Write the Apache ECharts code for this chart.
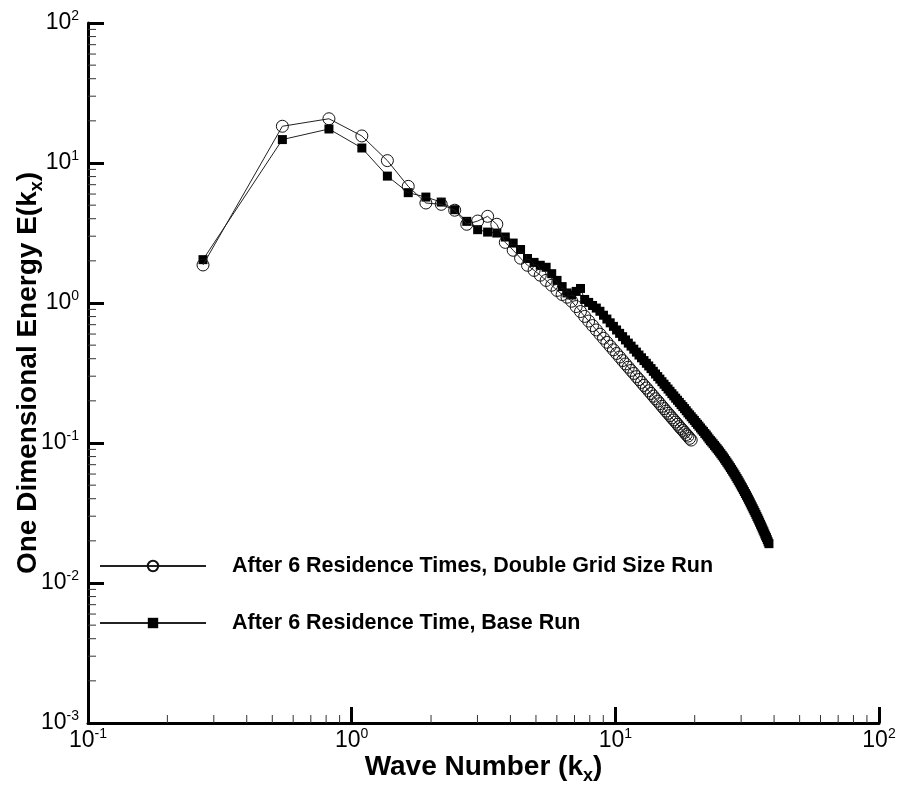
<!DOCTYPE html>
<html>
<head>
<meta charset="utf-8">
<script src="https://cdn.jsdelivr.net/npm/echarts@6/dist/echarts.min.js"></script>
<style>
  html, body { margin: 0; padding: 0; background: #fff; }
  #chart { width: 899px; height: 791px; }
</style>
</head>
<body>
<div id="chart"></div>
<script>
// wave numbers k_x (shared by both runs, the double grid run stops at 19.4)
const waveNumber = [
  0.273, 0.546, 0.820, 1.093, 1.366, 1.639, 1.912, 2.186, 2.459, 2.732,
  3.005, 3.278, 3.552, 3.825, 4.098, 4.371, 4.644, 4.918, 5.191, 5.464,
  5.737, 6.010, 6.284, 6.557, 6.830, 7.103, 7.376, 7.650, 7.923, 8.196,
  8.469, 8.742, 9.016, 9.289, 9.562, 9.835, 10.108, 10.382, 10.655, 10.928,
  11.201, 11.474, 11.748, 12.021, 12.294, 12.567, 12.840, 13.114, 13.387, 13.660,
  13.933, 14.206, 14.480, 14.753, 15.026, 15.299, 15.572, 15.846, 16.119, 16.392,
  16.665, 16.938, 17.212, 17.485, 17.758, 18.031, 18.304, 18.578, 18.851, 19.124,
  19.397, 19.670, 19.944, 20.217, 20.490, 20.763, 21.036, 21.310, 21.583, 21.856,
  22.129, 22.402, 22.676, 22.949, 23.222, 23.495, 23.768, 24.042, 24.315, 24.588,
  24.861, 25.134, 25.408, 25.681, 25.954, 26.227, 26.500, 26.774, 27.047, 27.320,
  27.593, 27.866, 28.140, 28.413, 28.686, 28.959, 29.232, 29.506, 29.779, 30.052,
  30.325, 30.598, 30.872, 31.145, 31.418, 31.691, 31.964, 32.238, 32.511, 32.784,
  33.057, 33.330, 33.604, 33.877, 34.150, 34.423, 34.696, 34.970, 35.243, 35.516,
  35.789, 36.062, 36.336, 36.609, 36.882, 37.155, 37.428, 37.702, 37.975, 38.248
];

// After 6 Residence Times, Double Grid Size Run (circles)
const energyDouble = [
  1.87, 18.3, 20.7, 15.6, 10.4, 6.81, 5.18, 5.07, 4.60, 3.65,
  3.85, 4.16, 3.65, 2.71, 2.38, 2.09, 1.86, 1.71, 1.58, 1.45,
  1.34, 1.23, 1.15, 1.10, 1.03, 0.943, 0.869, 0.802, 0.743, 0.690,
  0.642, 0.599, 0.560, 0.524, 0.492, 0.463, 0.436, 0.411, 0.388, 0.367,
  0.348, 0.330, 0.314, 0.298, 0.284, 0.271, 0.258, 0.247, 0.236, 0.226,
  0.216, 0.207, 0.199, 0.191, 0.183, 0.176, 0.169, 0.163, 0.157, 0.151,
  0.146, 0.141, 0.136, 0.131, 0.127, 0.123, 0.119, 0.115, 0.112, 0.108,
  0.105
];

// After 6 Residence Time, Base Run (filled squares)
const energyBase = [
  2.04, 14.7, 17.5, 12.8, 8.06, 6.14, 5.71, 5.26, 4.64, 3.83,
  3.34, 3.21, 3.16, 2.96, 2.68, 2.41, 2.08, 1.95, 1.86, 1.80,
  1.62, 1.45, 1.31, 1.18, 1.14, 1.21, 1.27, 1.06, 1.01, 0.96,
  0.92, 0.873, 0.818, 0.768, 0.722, 0.681, 0.642, 0.607, 0.575, 0.545,
  0.517, 0.492, 0.468, 0.446, 0.425, 0.406, 0.388, 0.371, 0.355, 0.340,
  0.325, 0.311, 0.298, 0.286, 0.274, 0.263, 0.253, 0.243, 0.234, 0.225,
  0.217, 0.209, 0.202, 0.195, 0.188, 0.182, 0.176, 0.170, 0.164, 0.159,
  0.154, 0.149, 0.145, 0.140, 0.136, 0.132, 0.128, 0.124, 0.121, 0.117,
  0.114, 0.1105, 0.107, 0.104, 0.1016, 0.0988, 0.0961, 0.0936, 0.0911, 0.0887,
  0.0863, 0.0839, 0.0816, 0.0794, 0.0771, 0.0749, 0.0728, 0.0707, 0.0687, 0.0667,
  0.0648, 0.0629, 0.0611, 0.0593, 0.0575, 0.0558, 0.0541, 0.0525, 0.0509, 0.0493,
  0.0479, 0.0464, 0.0450, 0.0436, 0.0423, 0.0410, 0.0397, 0.0385, 0.0373, 0.0361,
  0.0350, 0.0339, 0.0329, 0.0319, 0.0309, 0.0299, 0.0290, 0.0281, 0.0272, 0.0263,
  0.0255, 0.0247, 0.0239, 0.0232, 0.0224, 0.0217, 0.0211, 0.0204, 0.0197, 0.0191
];

// minor tick positions of the two log axes
const minorX = [
  0.2, 0.3, 0.4, 0.5, 0.6, 0.7, 0.8, 0.9,
  2, 3, 4, 5, 6, 7, 8, 9,
  20, 30, 40, 50, 60, 70, 80, 90
];
const minorY = [
  0.002, 0.003, 0.004, 0.005, 0.006, 0.007, 0.008, 0.009,
  0.02, 0.03, 0.04, 0.05, 0.06, 0.07, 0.08, 0.09,
  0.2, 0.3, 0.4, 0.5, 0.6, 0.7, 0.8, 0.9,
  2, 3, 4, 5, 6, 7, 8, 9,
  20, 30, 40, 50, 60, 70, 80, 90
];

const seriesNames = [
  "After 6 Residence Times, Double Grid Size Run",
  "After 6 Residence Time, Base Run"
];

const font = "Liberation Sans, Arial, Helvetica, sans-serif";

let myChart = echarts.init(document.getElementById("chart"));

function powLabel(v) {
  let e = Math.round(Math.log10(v));
  return "{b|10}{s|" + e + "}";
}

const labelRich = {
  b: { fontSize: 23, fontFamily: font, color: "#000", lineHeight: 27 },
  s: { fontSize: 14, fontFamily: font, color: "#000", verticalAlign: "top", lineHeight: 14 }
};

myChart.setOption({
  animation: false,
  backgroundColor: "#fff",
  grid: { left: 88, right: 20, top: 23, bottom: 68, containLabel: false, outerBoundsMode: "none" },
  legend: {
    data: seriesNames,
    orient: "vertical",
    left: 99,
    top: 555,
    padding: 0,
    itemWidth: 106,
    itemHeight: 13,
    itemGap: 35,
    textStyle: {
      fontFamily: font, fontSize: 21.5, fontWeight: "bold", color: "#000",
      lineHeight: 21, padding: [0, 0, 0, 21]
    }
  },
  xAxis: {
    type: "log",
    logBase: 10,
    min: 0.1,
    max: 100,
    name: "{t|Wave Number (k}{u|x}{t|)}",
    nameLocation: "middle",
    nameGap: 26,
    nameMoveOverlap: false,
    nameTextStyle: {
      rich: {
        t: { fontFamily: font, fontSize: 28, fontWeight: "bold", color: "#000", lineHeight: 36 },
        u: { fontFamily: font, fontSize: 18, fontWeight: "bold", color: "#000", verticalAlign: "bottom", lineHeight: 18 }
      }
    },
    axisLine: { lineStyle: { color: "#000", width: 3 } },
    axisTick: { inside: true, length: 16, lineStyle: { color: "#000", width: 3 } },
    axisLabel: { margin: 4, formatter: powLabel, rich: labelRich, showMinLabel: true, showMaxLabel: true },
    splitLine: { show: false }
  },
  yAxis: {
    type: "log",
    logBase: 10,
    min: 0.001,
    max: 100,
    name: "{t|One Dimensional Energy E(k}{u|x}{t|)}",
    nameLocation: "middle",
    nameGap: 42,
    nameMoveOverlap: false,
    nameTextStyle: {
      rich: {
        t: { fontFamily: font, fontSize: 28, fontWeight: "bold", color: "#000", lineHeight: 36 },
        u: { fontFamily: font, fontSize: 18, fontWeight: "bold", color: "#000", verticalAlign: "bottom", lineHeight: 18 }
      }
    },
    axisLine: { lineStyle: { color: "#000", width: 3 } },
    axisTick: { inside: true, length: 16, lineStyle: { color: "#000", width: 3 } },
    axisLabel: { margin: 9, formatter: powLabel, rich: labelRich, showMinLabel: true, showMaxLabel: true },
    splitLine: { show: false }
  },
  series: [
    {
      name: seriesNames[0],
      type: "line",
      z: 4,
      data: energyDouble.map((e, i) => [waveNumber[i], e]),
      symbol: "circle",
      symbolSize: 12,
      showAllSymbol: true,
      lineStyle: { color: "#222", width: 1 },
      itemStyle: { color: "rgba(255,255,255,0)", borderColor: "#111", borderWidth: 1 }
    },
    {
      name: seriesNames[1],
      type: "line",
      z: 3,
      data: energyBase.map((e, i) => [waveNumber[i], e]),
      symbol: "rect",
      symbolSize: 9,
      showAllSymbol: true,
      lineStyle: { color: "#222", width: 1 },
      itemStyle: { color: "#000" }
    },
    {
      // minor ticks on the x axis
      type: "custom",
      silent: true,
      z: 5,
      data: minorX.map(v => [v, 1]),
      renderItem: function (params, api) {
        let p = api.coord([api.value(0), 0.001]);
        return {
          type: "line",
          shape: { x1: p[0], y1: p[1], x2: p[0], y2: p[1] - 8 },
          style: { stroke: "#333", lineWidth: 1 }
        };
      }
    },
    {
      // minor ticks on the y axis
      type: "custom",
      silent: true,
      z: 5,
      data: minorY.map(v => [1, v]),
      renderItem: function (params, api) {
        let p = api.coord([0.1, api.value(1)]);
        return {
          type: "line",
          shape: { x1: p[0], y1: p[1], x2: p[0] + 8, y2: p[1] },
          style: { stroke: "#333", lineWidth: 1 }
        };
      }
    }
  ]
});
</script>
</body>
</html>
